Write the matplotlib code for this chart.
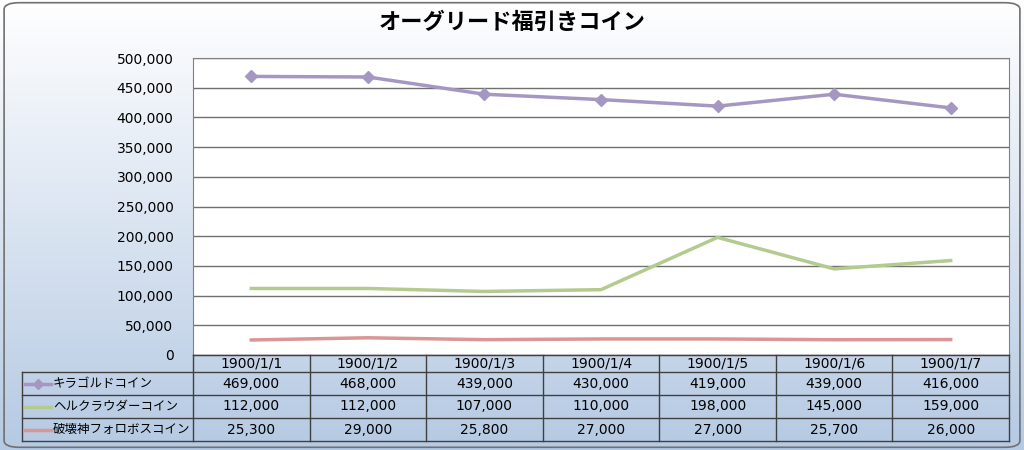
import matplotlib.pyplot as plt
import numpy as np
from matplotlib.patches import FancyBboxPatch
from matplotlib.lines import Line2D

# DejaVu first for the wide digits, CJK glyphs fall through to Noto
plt.rcParams['font.family'] = ['DejaVu Sans', 'Noto Sans CJK JP']

# data
title = 'オーグリード福引きコイン'
dates = ['1900/1/1', '1900/1/2', '1900/1/3', '1900/1/4', '1900/1/5', '1900/1/6', '1900/1/7']
names = ['キラゴルドコイン', 'ヘルクラウダーコイン', '破壊神フォロボスコイン']
kira = [469000, 468000, 439000, 430000, 419000, 439000, 416000]
herukura = [112000, 112000, 107000, 110000, 198000, 145000, 159000]
fororobos = [25300, 29000, 25800, 27000, 27000, 25700, 26000]
series = [kira, herukura, fororobos]
colors = ['#a597c2', '#b3cb8e', '#d99694']
markers = ['D', None, None]

W, H = 1024, 450
fig = plt.figure(figsize=(W / 100, H / 100), dpi=100)

# background gradient
bg = fig.add_axes([0, 0, 1, 1], zorder=-10)
grad = np.linspace(0, 1, 256).reshape(-1, 1)
top = np.array([1.0, 1.0, 1.0])
bot = np.array([0.71, 0.79, 0.89])
img = top + (bot - top) * grad[:, :, None]
bg.imshow(img, aspect='auto', extent=[0, 1, 0, 1], origin='upper')
bg.set_xlim(0, 1)
bg.set_ylim(0, 1)
bg.axis('off')
border = FancyBboxPatch((0.004, 0.006), 0.992, 0.988,
                        boxstyle='round,pad=0,rounding_size=0.015',
                        transform=bg.transAxes, fill=False, edgecolor='#707070', lw=1.2)
bg.add_patch(border)


def fx(px):
    return px / W


def fy(py):
    return 1 - py / H


left, right, ytop, ybot = 193, 1009, 58, 355
ax = fig.add_axes([fx(left), fy(ybot), fx(right - left), (ybot - ytop) / H])
x = np.arange(len(dates))
for vals, c, m in zip(series, colors, markers):
    ax.plot(x, vals, color=c, lw=2.5, marker=m, markersize=6, zorder=3)
ax.set_xlim(-0.5, len(dates) - 0.5)
ax.set_ylim(0, 500000)
ax.set_yticks(np.arange(0, 500001, 50000))
ax.set_yticklabels([f'{v:,}' for v in range(0, 500001, 50000)], fontsize=10)
ax.tick_params(axis='y', length=0, pad=14)
ax.set_xticks([])
ax.grid(axis='y', color='#707070', lw=1)
ax.set_axisbelow(True)
for s in ax.spines.values():
    s.set_color('#808080')

fig.text(0.5, fy(22), title, ha='center', va='center', fontsize=16, fontweight='bold')

# data table
rows_y = [355, 372, 395, 418, 441]
col_x = [left + i * (right - left) / len(dates) for i in range(len(dates) + 1)]
lc = '#404040'
for yy in rows_y[1:]:
    fig.add_artist(Line2D([fx(22), fx(right)], [fy(yy), fy(yy)], color=lc, lw=1))
fig.add_artist(Line2D([fx(left), fx(right)], [fy(355), fy(355)], color=lc, lw=1))
for xx in col_x:
    fig.add_artist(Line2D([fx(xx), fx(xx)], [fy(355), fy(441)], color=lc, lw=1))
fig.add_artist(Line2D([fx(22), fx(22)], [fy(372), fy(441)], color=lc, lw=1))

for i, d in enumerate(dates):
    cx = (col_x[i] + col_x[i + 1]) / 2
    fig.text(fx(cx), fy((rows_y[0] + rows_y[1]) / 2), d, ha='center', va='center', fontsize=10)
for r, (name, vals, c, m) in enumerate(zip(names, series, colors, markers)):
    cy = (rows_y[r + 1] + rows_y[r + 2]) / 2
    fig.add_artist(Line2D([fx(25), fx(51)], [fy(cy), fy(cy)], color=c, lw=2.5))
    if m:
        fig.add_artist(Line2D([fx(38)], [fy(cy)], color=c, marker=m, markersize=5))
    fig.text(fx(53), fy(cy), name, ha='left', va='center', fontsize=9)
    for i, v in enumerate(vals):
        cx = (col_x[i] + col_x[i + 1]) / 2
        fig.text(fx(cx), fy(cy), f'{v:,}', ha='center', va='center', fontsize=10)

fig.savefig('out.png', dpi=100)
